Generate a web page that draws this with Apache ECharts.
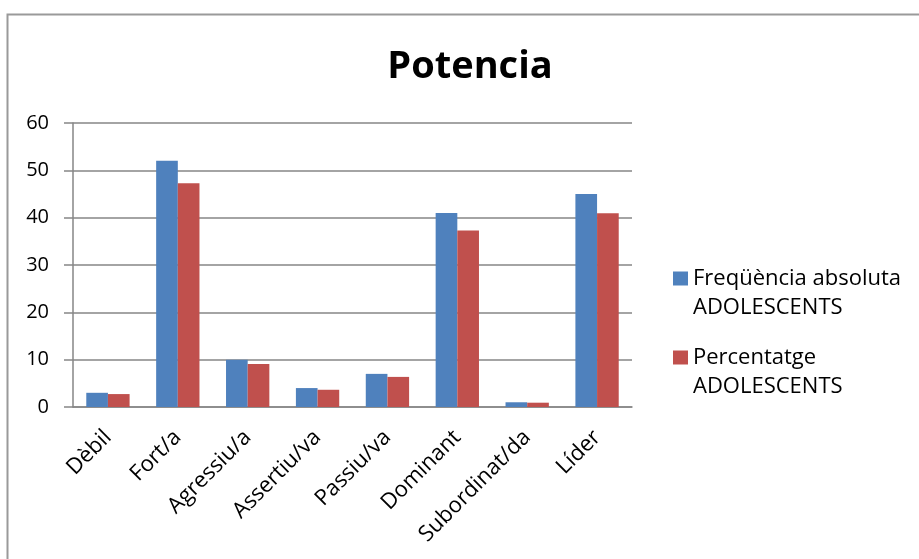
<!DOCTYPE html>
<html><head><meta charset="utf-8">
<script src="https://cdn.jsdelivr.net/npm/echarts@6/dist/echarts.min.js"></script>
<style>html,body{margin:0;padding:0;background:#fff}#c{width:919px;height:559px}</style>
</head><body><div id="c"></div>
<script>
const categories = ['Dèbil','Fort/a','Agressiu/a','Assertiu/va','Passiu/va','Dominant','Subordinat/da','Líder'];
const seriesNames = ['Freqüència absoluta\nADOLESCENTS','Percentatge\nADOLESCENTS'];
const freqValues = [3, 52, 10, 4, 7, 41, 1, 45];
const pctValues = [2.73, 47.27, 9.09, 3.64, 6.36, 37.27, 0.91, 40.91];
const yTicks = {min: 0, max: 60, interval: 10};

const chart = echarts.init(document.getElementById('c'));
const font = 'Open Sans';
const legendText = {fontFamily: font, fontSize: 22, color: '#000', lineHeight: 29};
const legendFmt = name => ' \n' + name;
chart.setOption({
  animation: false,
  graphic: [{type:'rect', shape:{x:7.5,y:14.5,width:1000,height:1000}, style:{fill:'none', stroke:'#9a9a9a', lineWidth:2}, silent:true}],
  title: {text:'Potencia', left: 465, top: 43, textAlign:'center', textStyle:{fontFamily:font, fontWeight:'bold', fontSize:38, color:'#000'}},
  legend: [
    {data:[seriesNames[0]], formatter: legendFmt, orient:'vertical', left:673, top:235, padding:0, itemWidth:15, itemHeight:14, itemTextGap:9, textStyle:legendText, icon:'rect'},
    {data:[seriesNames[1]], formatter: legendFmt, orient:'vertical', left:673, top:314, padding:0, itemWidth:15, itemHeight:14, itemTextGap:9, textStyle:legendText, icon:'rect'}
  ],
  grid: {left:73, right:287, top:123, bottom:152, containLabel:false},
  xAxis: {type:'category', data: categories,
    axisLine:{lineStyle:{color:'#868686', width:1.5}}, axisTick:{show:false},
    axisLabel:{rotate:45, interval:0, margin:27, fontFamily:font, fontSize:22, color:'#000'}},
  yAxis: {type:'value', min:yTicks.min, max:yTicks.max, interval:yTicks.interval,
    axisLine:{show:true, lineStyle:{color:'#868686', width:1.5}},
    axisTick:{show:true, length:9, lineStyle:{color:'#868686', width:1.5}},
    splitLine:{lineStyle:{color:'#868686', width:1.5}},
    axisLabel:{margin:24, fontFamily:font, fontSize:20, color:'#000'}},
  series: [
    {name: seriesNames[0], type:'bar', data: freqValues, itemStyle:{color:'#4F81BD'}, barGap:'0%', barCategoryGap:'38%'},
    {name: seriesNames[1], type:'bar', data: pctValues, itemStyle:{color:'#C0504D'}, barGap:'0%', barCategoryGap:'38%'}
  ]
});
</script></body></html>
